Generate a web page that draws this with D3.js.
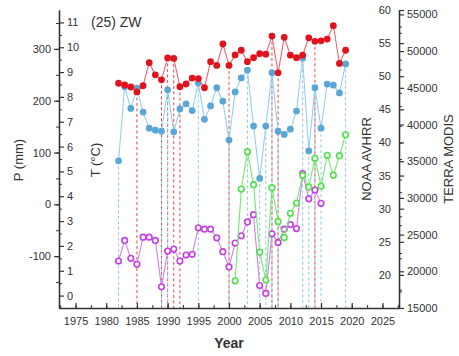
<!DOCTYPE html>
<html>
<head>
<meta charset="utf-8">
<script src="https://cdn.jsdelivr.net/npm/d3@7"></script>
<style>
  body { margin: 0; background: #fff; }
  text { font-family: "Liberation Sans", Arial, sans-serif; fill: #333; }
</style>
</head>
<body>
<script>
var width = 459;
var height = 356;
var svg = d3.select('body').append('svg');
svg.attr('width', width);
svg.attr('height', height);

// data
var years = [1982, 1983, 1984, 1985, 1986, 1987, 1988, 1989, 1990, 1991, 1992, 1993, 1994,
             1995, 1996, 1997, 1998, 1999, 2000, 2001, 2002, 2003, 2004, 2005, 2006, 2007,
             2008, 2009, 2010, 2011, 2012, 2013, 2014, 2015, 2016, 2017, 2018, 2019];
var tempC = [8.55, 8.48, 8.40, 8.20, 8.45, 9.38, 8.89, 8.69, 9.57, 9.55, 8.41, 8.52, 8.76,
             8.74, 8.37, 9.42, 9.27, 10.13, 9.27, 9.69, 9.88, 9.42, 9.58, 9.74, 9.72, 10.45,
             8.97, 10.40, 9.68, 9.58, 9.68, 10.38, 10.24, 10.26, 10.33, 10.87, 9.35, 9.88];
var precip = [84, 227, 185, 224, 178, 147, 143, 141, 221, 140, 184, 194, 181,
              234, 164, 190, 225, 199, 124, 217, 244, 259, 151, 50, 151, 254,
              141, 135, 145, 180, 282, 103, 225, 147, 232, 230, 215, 271];
var noaaYears = [1982, 1983, 1984, 1985, 1986, 1987, 1988, 1989, 1990, 1991, 1992, 1993,
                 1994, 1995, 1996, 1997, 1998, 1999, 2000, 2001, 2002, 2003, 2004, 2005,
                 2006, 2007, 2008, 2009, 2010, 2011, 2012, 2013, 2014, 2015];
var noaa = [22.1, 25.2, 22.5, 21.6, 25.7, 25.7, 25.2, 18.2, 23.6, 23.9, 22.1, 23.0,
            23.1, 27.1, 26.9, 26.9, 25.6, 23.5, 21.2, 24.8, 25.9, 28.0, 29.1, 18.4,
            17.2, 26.2, 24.9, 26.9, 27.6, 27.0, 35.3, 31.5, 32.8, 30.8];
var modisYears = [2001, 2002, 2003, 2004, 2005, 2006, 2007, 2008, 2009, 2010,
                  2011, 2012, 2013, 2014, 2015, 2016, 2017, 2018, 2019];
var modis = [18700, 31200, 36300, 31800, 22600, 18800, 31400, 26800, 24600, 27900,
             29300, 33100, 31500, 35400, 31600, 35800, 33100, 35750, 38600];
// years with drop lines
var redDrop = [1985, 1989, 1990, 1991, 1992, 2000, 2007, 2008, 2014];
var blueDrop = [1982, 1989, 1990, 1995, 2000, 2003, 2005, 2006, 2007, 2008, 2012, 2013, 2014, 2015, 2019];

var xTicks = [1975, 1980, 1985, 1990, 1995, 2000, 2005, 2010, 2015, 2020, 2025];
var pTicks = [-100, 0, 100, 200, 300];
var tTicks = [0, 1, 2, 3, 4, 5, 6, 7, 8, 9, 10, 11];
var noaaTicks = [20, 25, 30, 35, 40, 45, 50, 55, 60];
var modisTicks = [15000, 20000, 25000, 30000, 35000, 40000, 45000, 50000, 55000];

var L = 59, R = 399, T = 10, B = 308;

var x = d3.scaleLinear().domain([1972.3, 2027.7]).range([L, R]);
var yP = d3.scaleLinear().domain([-200, 375]).range([B, T]);
var yT = d3.scaleLinear().domain([-0.5, 11.5]).range([B, T]);
var yN = d3.scaleLinear().domain([15, 60]).range([B, T]);
var yM = d3.scaleLinear().domain([15000, 55600]).range([B, T]);

var red = "#e0131c", redLine = "#f26470";
var blue = "#5aa6d6", blueLine = "#92d0f0";
var mag = "#c53fe8", magLine = "#d47cf0";
var green = "#4fe04a", greenLine = "#6fee6a";

function plain(d) { return String(d); } // keep ascii hyphen for negatives

function dropLines(list, vals, yScale, color) {
  svg.append("g").selectAll("line")
    .data(list)
    .enter().append("line")
    .attr("x1", function(d) { return x(d); })
    .attr("x2", function(d) { return x(d); })
    .attr("y1", function(d) { return yScale(vals[years.indexOf(d)]); })
    .attr("y2", B)
    .attr("stroke", color)
    .attr("stroke-width", 1)
    .attr("stroke-dasharray", "3,2.5");
}
dropLines(redDrop, tempC, yT, "#ee4444");
dropLines(blueDrop, precip, yP, "#8ec8ec");

function series(xs, vals, yScale, lineColor, dotColor, open) {
  var pts = xs.map(function(d, i) { return [d, vals[i]]; });
  var line = d3.line()
    .x(function(d) { return x(d[0]); })
    .y(function(d) { return yScale(d[1]); });
  svg.append("path")
    .attr("d", line(pts))
    .attr("fill", "none")
    .attr("stroke", lineColor)
    .attr("stroke-width", 1.1);
  svg.append("g").selectAll("circle")
    .data(pts)
    .enter().append("circle")
    .attr("cx", function(d) { return x(d[0]); })
    .attr("cy", function(d) { return yScale(d[1]); })
    .attr("r", open ? 2.8 : 3.4)
    .attr("fill", open ? "#fff" : dotColor)
    .attr("stroke", dotColor)
    .attr("stroke-width", open ? 1.6 : 0);
}
series(noaaYears, noaa, yN, magLine, mag, true);
series(modisYears, modis, yM, greenLine, green, true);
series(years, precip, yP, blueLine, blue, false);
series(years, tempC, yT, redLine, red, false);

// axes
var axisColor = "#333";
function styleAxis(g) {
  g.select(".domain").attr("stroke", axisColor).attr("stroke-width", 1.3);
  g.selectAll(".tick line").attr("stroke", axisColor).attr("stroke-width", 1.2);
  g.selectAll(".tick text").attr("font-size", 11).attr("fill", "#444")
    .attr("font-family", "Liberation Sans, Arial, sans-serif");
}
function minor(g) {
  g.select(".domain").remove();
  g.selectAll(".tick line").attr("stroke", axisColor).attr("stroke-width", 1);
  g.selectAll("text").remove();
}

// bottom
svg.append("g").attr("transform", "translate(0," + B + ")")
  .call(d3.axisBottom(x).tickValues(d3.range(1972.5, 2028, 2.5)).tickSize(-3).tickFormat(""))
  .call(minor);
svg.append("g").attr("transform", "translate(0," + B + ")")
  .call(d3.axisBottom(x).tickValues(xTicks).tickSizeInner(-5).tickSizeOuter(0)
    .tickPadding(9).tickFormat(plain))
  .call(styleAxis);

// left: P outside
svg.append("g").attr("transform", "translate(" + L + ",0)")
  .call(d3.axisLeft(yP).tickValues(d3.range(-150, 375, 50)).tickSize(3).tickFormat(""))
  .call(minor);
svg.append("g").attr("transform", "translate(" + L + ",0)")
  .call(d3.axisLeft(yP).tickValues(pTicks).tickSizeInner(5).tickSizeOuter(0).tickPadding(3)
    .tickFormat(plain))
  .call(styleAxis);
// left: T inside
svg.append("g").attr("transform", "translate(" + L + ",0)")
  .call(d3.axisRight(yT).tickValues(d3.range(0.5, 11.5, 1)).tickSize(3).tickFormat(""))
  .call(minor);
svg.append("g").attr("transform", "translate(" + L + ",0)")
  .call(d3.axisRight(yT).tickValues(tTicks).tickSizeInner(5).tickSizeOuter(0).tickPadding(3)
    .tickFormat(plain))
  .call(styleAxis);

// right: NOAA inside
svg.append("g").attr("transform", "translate(" + R + ",0)")
  .call(d3.axisLeft(yN).tickValues(d3.range(17.5, 60, 5)).tickSize(-3).tickFormat(""))
  .call(minor);
svg.append("g").attr("transform", "translate(" + R + ",0)")
  .call(d3.axisLeft(yN).tickValues(noaaTicks).tickSizeInner(-5).tickSizeOuter(0).tickPadding(8)
    .tickFormat(plain))
  .call(styleAxis);
// right: MODIS outside
svg.append("g").attr("transform", "translate(" + R + ",0)")
  .call(d3.axisRight(yM).tickValues(d3.range(17500, 55600, 5000)).tickSize(3).tickFormat(""))
  .call(minor);
svg.append("g").attr("transform", "translate(" + R + ",0)")
  .call(d3.axisRight(yM).tickValues(modisTicks).tickSizeInner(5).tickSizeOuter(0).tickPadding(3)
    .tickFormat(plain))
  .call(styleAxis);

// titles
svg.append("text").attr("x", 91).attr("y", 27).attr("font-size", 14).text("(25) ZW");

svg.append("text").attr("transform", "translate(23,160) rotate(-90)")
  .attr("text-anchor", "middle").attr("font-size", 13).text("P (mm)");
svg.append("text").attr("transform", "translate(100,160) rotate(-90)")
  .attr("text-anchor", "middle").attr("font-size", 13).text("T (\u00B0C)");
svg.append("text").attr("transform", "translate(371,159) rotate(-90)")
  .attr("text-anchor", "middle").attr("font-size", 13).text("NOAA AVHRR");
svg.append("text").attr("transform", "translate(453,159) rotate(-90)")
  .attr("text-anchor", "middle").attr("font-size", 13).text("TERRA MODIS");
svg.append("text").attr("x", 229).attr("y", 348)
  .attr("text-anchor", "middle").attr("font-size", 14).attr("font-weight", "bold")
  .attr("fill", "#444").text("Year");
</script>
</body>
</html>
